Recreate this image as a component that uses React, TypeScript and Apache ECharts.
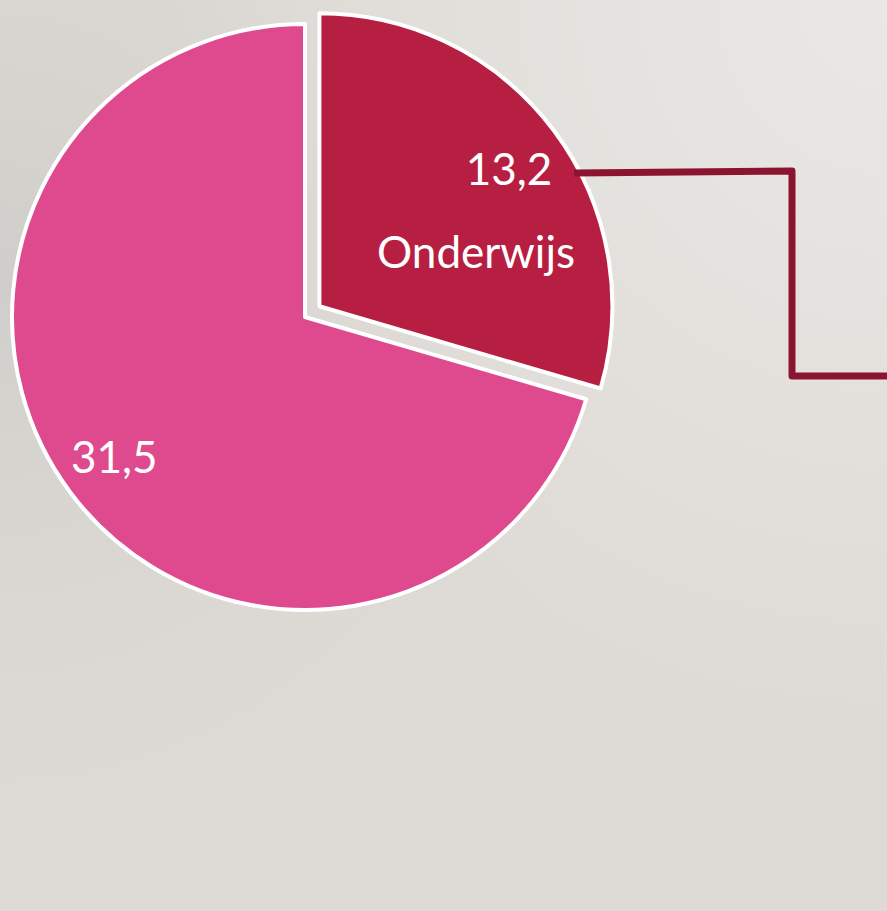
import React, { useEffect, useRef } from "react";
import * as echarts from "echarts";

const categories = ["Onderwijs", "Overig"];
const values = [13.2, 31.5];
const sliceColors = ["#B71F42", "#DF4A8F"];

const fmt = (v: number) => v.toFixed(1).replace(".", ",");

export default function App() {
  const ref = useRef<HTMLDivElement>(null);
  useEffect(() => {
    if (!ref.current) return;
    const chart = echarts.init(ref.current, null, { renderer: "svg" });
    const option: any = {
      animation: false,
      backgroundColor: "#dedbd6",
      graphic: [
        {
          type: "rect",
          z: -20,
          silent: true,
          shape: { x: 0, y: 0, width: 887, height: 911 },
          style: {
            fill: {
              type: "radial",
              x: 0,
              y: 0.3,
              r: 0.75,
              colorStops: [
                { offset: 0, color: "rgba(208,206,202,1)" },
                { offset: 1, color: "rgba(222,219,214,0)" },
              ],
            },
          },
        },
        {
          type: "rect",
          z: -19,
          silent: true,
          shape: { x: 0, y: 0, width: 887, height: 911 },
          style: {
            fill: {
              type: "radial",
              x: 1,
              y: 0,
              r: 0.8,
              colorStops: [
                { offset: 0, color: "rgba(234,232,229,1)" },
                { offset: 1, color: "rgba(234,232,229,0)" },
              ],
            },
          },
        },
        {
          type: "polyline",
          z: 100,
          shape: {
            points: [
              [574, 173],
              [792, 171],
              [792, 376],
              [887, 376],
            ],
          },
          style: { stroke: "#8B1431", lineWidth: 7, fill: "none", lineJoin: "round" },
        },
      ],
      series: [
        {
          type: "pie",
          center: [305, 317],
          radius: 293,
          startAngle: 90,
          clockwise: true,
          selectedMode: "single",
          selectedOffset: 18,
          silent: true,
          itemStyle: { borderColor: "#ffffff", borderWidth: 4 },
          emphasis: { disabled: true },
          select: { itemStyle: { borderColor: "#ffffff", borderWidth: 4 } },
          labelLine: { show: false },
          label: {
            show: true,
            position: "inside",
            color: "#ffffff",
            fontFamily: "Lato",
            fontSize: 44,
            formatter: (p: any) =>
              p.dataIndex === 0
                ? `{a|${fmt(p.value)}}\n{b|${p.name}}`
                : `{c|${fmt(p.value)}}`,
            rich: {
              a: { color: "#fff", fontFamily: "Lato", fontSize: 44, lineHeight: 83, padding: [0, 0, 0, 66] },
              b: { color: "#fff", fontFamily: "Lato", fontSize: 44, lineHeight: 83 },
              c: { color: "#fff", fontFamily: "Lato", fontSize: 44, lineHeight: 50 },
            },
          },
          labelLayout: (p: any) =>
            p.dataIndex === 0 ? { dx: 37, dy: -7 } : { dx: -71, dy: 49 },
          data: categories.map((name, i) => ({
            name,
            value: values[i],
            selected: i === 0,
            itemStyle: { color: sliceColors[i] },
            select: { itemStyle: { color: sliceColors[i] } },
          })),
        },
      ],
    };
    chart.setOption(option);
    return () => chart.dispose();
  }, []);
  return (
    <div
      ref={ref}
      style={{ position: "fixed", left: 0, top: 0, width: 887, height: 911 }}
    />
  );
}
